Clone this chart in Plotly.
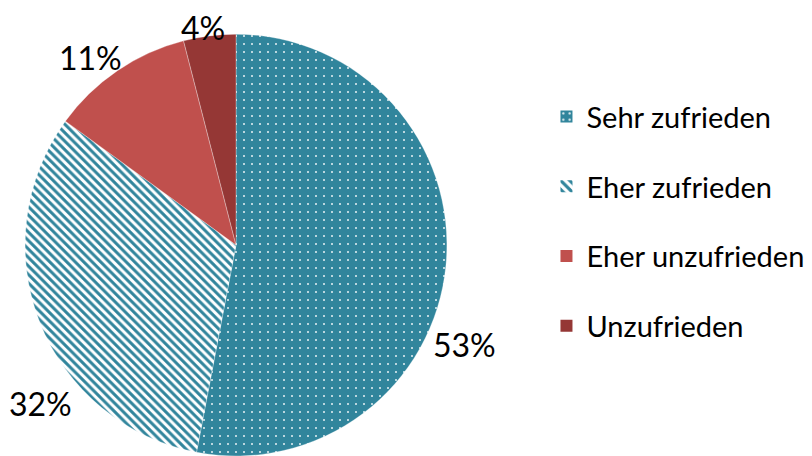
import math
import plotly.graph_objects as go

labels = ["Sehr zufrieden", "Eher zufrieden", "Eher unzufrieden", "Unzufrieden"]
values = [53, 32, 11, 4]
colors = ["#31859C", "#FFFFFF", "#C0504D", "#953735"]
pattern_shapes = [".", "\\", "", ""]
pattern_fg = ["#E8F2F5", "#31859C", "#C0504D", "#953735"]
pattern_size = [8, 6, 8, 8]
pattern_solidity = [0.05, 0.5, 0.3, 0.3]

# label placement (layout): angle clockwise from 12 o'clock, distance as fraction of radius
label_angle = [113.5, 231.0, 322.1, 351.5]
label_dist = [1.18, 1.19, 1.125, 1.045]

W, H = 812, 456
dom_x = [0.0308, 0.5505]
dom_y = [0.0, 0.925]

fig = go.Figure()

fig.add_trace(
    go.Pie(
        labels=labels,
        values=values,
        sort=False,
        direction="clockwise",
        rotation=0,
        textinfo="none",
        marker=dict(
            colors=colors,
            line=dict(color="rgba(255,255,255,0.6)", width=0.5),
            pattern=dict(
                shape=pattern_shapes,
                fgcolor=pattern_fg,
                bgcolor=colors,
                fgopacity=1,
                size=pattern_size,
                solidity=pattern_solidity,
                fillmode="overlay",
            ),
        ),
        domain=dict(x=dom_x, y=dom_y),
        hoverinfo="label+percent",
        showlegend=False,
    )
)

# percentage labels around the pie
cx = (dom_x[0] + dom_x[1]) / 2 * W
cy = (dom_y[0] + dom_y[1]) / 2 * H
r = min((dom_x[1] - dom_x[0]) * W, (dom_y[1] - dom_y[0]) * H) / 2
total = sum(values)
for v, a, d in zip(values, label_angle, label_dist):
    t = math.radians(a)
    px = cx + d * r * math.sin(t)
    py = cy + d * r * math.cos(t)
    fig.add_annotation(
        x=px / W,
        y=py / H,
        xref="paper",
        yref="paper",
        text=f"{round(100 * v / total)}%",
        showarrow=False,
        xanchor="center",
        yanchor="middle",
        font=dict(family="Lato, sans-serif", size=32, color="#000000"),
    )

# legend entries (one per category) drawn from the same arrays
for i, lab in enumerate(labels):
    fig.add_trace(
        go.Bar(
            x=[lab],
            y=[0],
            name=lab,
            legendgroup=lab,
            showlegend=True,
            marker=dict(
                color=colors[i],
                line=dict(width=0),
                pattern=dict(
                    shape=pattern_shapes[i],
                    fgcolor=pattern_fg[i],
                    bgcolor=colors[i],
                    fgopacity=1,
                    size=[pattern_size[i] * 0.6],
                    solidity=pattern_solidity[i] * 2 if i == 0 else pattern_solidity[i],
                    fillmode="overlay",
                ),
            ),
            hoverinfo="skip",
        )
    )

fig.update_xaxes(visible=False)
fig.update_yaxes(visible=False)

fig.update_layout(
    width=W,
    height=H,
    margin=dict(l=0, r=0, t=0, b=0, autoexpand=False),
    paper_bgcolor="#FFFFFF",
    plot_bgcolor="#FFFFFF",
    font=dict(family="Lato, sans-serif", color="#000000"),
    showlegend=True,
    legend=dict(
        x=0.673,
        y=0.80,
        xanchor="left",
        yanchor="top",
        traceorder="grouped",
        tracegroupgap=29,
        font=dict(family="Lato, sans-serif", size=29, color="#000000"),
        itemwidth=30,
        bgcolor="rgba(0,0,0,0)",
    ),
)

fig.write_html(
    "out.html",
    config={"displayModeBar": False},
    post_script="document.body.style.margin='0';document.body.style.overflow='hidden';",
)
